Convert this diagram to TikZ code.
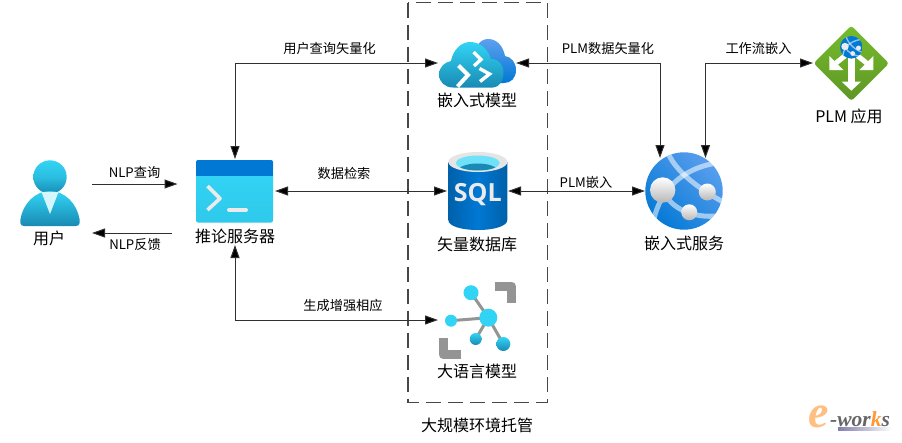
\documentclass[tikz,border=0pt]{standalone}
\usepackage{fontspec}
\setmainfont{Noto Sans CJK SC}
\newfontfamily\sqlfont{Open Sans}
\newfontfamily\ewfont{Liberation Serif}
\usetikzlibrary{arrows.meta}
\definecolor{cyanA}{HTML}{32D4F5}
\definecolor{cyanB}{HTML}{198AB3}
\definecolor{azureA}{HTML}{5EA0EF}
\definecolor{azureB}{HTML}{0078D4}
\definecolor{grayI}{HTML}{949494}
\definecolor{lineC}{HTML}{303030}
\definecolor{leafA}{HTML}{76BC2D}
\definecolor{leafB}{HTML}{5E9624}
\tikzset{
  x=1pt,y=-1pt,
  iconbox/.style={inner sep=0pt,outer sep=0pt,minimum width=#1},
  link/.style={draw=lineC,line width=1pt,{Triangle[length=13pt,width=9pt,fill=black]}-{Triangle[length=13pt,width=9pt,fill=black]}},
  oneway/.style={draw=lineC,line width=1pt,-{Triangle[length=13pt,width=9pt,fill=black]}},
  small/.style={inner sep=0pt,font=\fontsize{13.2}{15}\selectfont,text=black},
  big/.style={inner sep=0pt,font=\fontsize{16}{18}\selectfont,text=black},
  cyandot/.style={fill=cyanA},
  grayline/.style={draw=grayI,line width=3pt},
  corner/.style={draw=grayI,line width=9pt,line join=round,line cap=butt},
  pearl/.style={top color=white,bottom color=black!28},
}
\begin{document}
\begin{tikzpicture}
\useasboundingbox (0,0) rectangle (902,442);
\fill[white] (0,0) rectangle (902,442);

% dashed hosting frame
\draw[draw=black!72,line width=1.1pt,dash pattern=on 15pt off 7pt] (408,2.5) rectangle (547.5,402.5);

% user icon
\shade[top color=cyanA,bottom color=cyanB,middle color=cyanA!70!cyanB] (50,177) circle[radius=16.7];
\shade[top color=cyanA,bottom color=cyanB] (24,226) .. controls (20,226) and (20,222) .. (20.5,219) .. controls (23,204) and (35,191) .. (50,191) .. controls (65,191) and (77,204) .. (79.5,219) .. controls (80,222) and (80,226) .. (76,226) -- cycle;
\fill[white!80!cyanA] (41.5,192) -- (58.5,192) -- (50,214) -- cycle;

% inference server icon
\shade[rounded corners=2pt,top color=cyanA,bottom color=cyanA!85!cyanB] (196,170) rectangle (273,222.5);
\fill[azureB,rounded corners=2pt] (196,160) rectangle (273,172);
\fill[azureB] (196,168) rectangle (273,176);
\draw[white!92!black,line width=3.6pt,line join=round] (207.5,186) -- (220,198.5) -- (207.5,210);
\draw[white!92!black,line width=4pt,line cap=round] (229,210) -- (246,210);

% cloud icon
\shade[top color=azureA,bottom color=azureB] (477,46) .. controls (480,41) and (484,39) .. (488,39) .. controls (497,39) and (503,46) .. (505,56) .. controls (511,57) and (516,62) .. (516,70) .. controls (516,78) and (511,83) .. (504,83) -- (485,83) -- cycle;
\shade[top color=cyanA,middle color=cyanA,bottom color=cyanB] (453,87.5) .. controls (445,87.5) and (439,82) .. (439,74.5) .. controls (439,67) and (445,62) .. (451,61) .. controls (453,50) and (461,42) .. (470,42) .. controls (480,42) and (488,49) .. (491,59) .. controls (499,59) and (503.5,65) .. (503.5,73) .. controls (503.5,81) and (499,87.5) .. (493,87.5) -- cycle;
\draw[white,line width=3.4pt] (473.5,52) -- (481,59.5) -- (474,66);
\draw[white,line width=4pt] (458.5,65.5) -- (468,75) -- (457.5,86.5);
\draw[white,line width=3.4pt] (479.5,68.5) -- (489.5,74) -- (480,81.5);

% database icon
\shade[left color=azureB!80!black,right color=azureB!80!black,middle color=azureB] (448.3,162) -- (448.3,220) .. controls (448.3,226) and (461,230) .. (477.8,230) .. controls (494.5,230) and (507.3,226) .. (507.3,220) -- (507.3,162) -- cycle;
\fill[black!10] (477.8,162) ellipse[x radius=29.5,y radius=10];
\fill[cyanA!70!white] (477.8,163) ellipse[x radius=22,y radius=7.5];
\begin{scope}
\clip (477.8,163) ellipse[x radius=22,y radius=7.5];
\fill[cyanB] (477.8,171) ellipse[x radius=20,y radius=7.5];
\end{scope}
\node[inner sep=0pt,text=white!92!black] (sqltext) at (477.8,195) {\sqlfont\bfseries\fontsize{25}{27}\selectfont SQL};

% language model icon
\draw[corner] (494.5,286) -- (511.5,286) -- (511.5,303);
\draw[corner] (443,337.5) -- (443,354.5) -- (460.5,354.5);
\draw[grayline] (488.3,317.7) -- (471,292.7);
\draw[grayline] (488.3,317.7) -- (451,320.7);
\draw[grayline] (488.3,317.7) -- (475.7,339);
\draw[grayline] (488.3,317.7) -- (503.3,344);
\fill[cyandot] (488.3,317.7) circle[radius=9];
\fill[cyandot] (471,292.7) circle[radius=7.5];
\fill[cyandot] (451,320.7) circle[radius=6];
\shade[top color=cyanA,bottom color=cyanB] (475.7,339) circle[radius=6];
\shade[top color=cyanA,bottom color=cyanB] (503.3,344) circle[radius=7];

% embedding service globe
\begin{scope}
\clip (684,191) circle[radius=38.7];
\shade[left color=azureA,right color=azureB,shading angle=-45] (640,147) rectangle (728,235);
\draw[white,opacity=.55,line width=5pt] (669,155) .. controls (676,170) and (695,187) .. (725,203);
\draw[white,opacity=.55,line width=5pt] (653,225) .. controls (656,200) and (675,166) .. (725,162);
\draw[white,opacity=.55,line width=5pt] (662,190) .. controls (672,210) and (695,220) .. (725,215);
\end{scope}
\shade[pearl] (662.7,190) circle[radius=12.7];
\shade[pearl] (707.3,192) circle[radius=8.5];
\shade[pearl] (689.3,212.3) circle[radius=8];

% PLM application icon
\shade[top color=leafA,bottom color=leafB,rounded corners=3pt] (851.3,25.6) -- (889,63.3) -- (851.3,101) -- (813.6,63.3) -- cycle;
\fill[white] (847.7,56.5) rectangle (855,82);
\fill[white] (841.7,81.7) -- (861,81.7) -- (851.3,90.7) -- cycle;
\fill[white] (829.3,56) -- (829.3,70) -- (843.3,70) -- cycle;
\fill[white] (873.3,56) -- (873.3,70) -- (859.3,70) -- cycle;
\draw[white,line width=5pt] (836,63) -- (846,55);
\draw[white,line width=5pt] (866.6,63) -- (856.6,55);
\begin{scope}
\clip (851.3,47.3) circle[radius=11.3];
\fill[azureB] (840,36) rectangle (863,59);
\draw[white,opacity=.55,line width=1.4pt] (846,36) .. controls (848,44) and (855,50) .. (864,53);
\draw[white,opacity=.55,line width=1.4pt] (843,55) .. controls (844,46) and (852,40) .. (864,39);
\draw[white,opacity=.55,line width=1.4pt] (845,47) .. controls (848,53) and (855,57) .. (864,56);
\end{scope}
\fill[white!92!black] (845,46.5) circle[radius=3.7];
\fill[white!92!black] (858.5,48) circle[radius=2.5];
\fill[white!92!black] (852.7,53.5) circle[radius=2.4];

% invisible anchor nodes of the icons
\node[iconbox=80,minimum height=86] (srv) at (235,202) {};
\node[iconbox=78,minimum height=50] (cloud) at (477,63) {};
\node[iconbox=61,minimum height=78] (sql) at (477.5,191) {};
\node[iconbox=76,minimum height=80] (llm) at (476,320) {};
\node[iconbox=78,minimum height=66] (web) at (684,191) {};
\node[iconbox=76,minimum height=76] (plm) at (851,63) {};
\coordinate (userOut) at (92,184);
\coordinate (srvIn) at (177.5,184);
\coordinate (srvOut) at (172,233);
\coordinate (userIn) at (92,233);
\coordinate (webA) at (660,158);
\coordinate (webB) at (705.5,158);

% connectors
\draw[oneway] (userOut) -- (srvIn);
\draw[oneway] (srvOut) -- (userIn);
\draw[link] (srv.north) |- (cloud.west);
\draw[link] (srv.east |- sql.west) -- (sql.west);
\draw[link] (srv.south) |- (llm.west);
\draw[link] (cloud.east) -| (webA);
\draw[link] (sql.east) -- (web.west);
\draw[link] (webB) |- (plm.west);

% labels
\node[small] (l1) at (329.5,48) {用户查询矢量化};
\node[small] (l2) at (608,48) {PLM数据矢量化};
\node[small] (l3) at (758.5,48) {工作流嵌入};
\node[small] (l4) at (134.5,172) {NLP查询};
\node[small] (l5) at (135,245) {NLP反馈};
\node[small] (l6) at (344,173) {数据检索};
\node[small] (l7) at (586,182) {PLM嵌入};
\node[small] (l8) at (343,305) {生成增强相应};
\node[big] (n1) at (49,238) {用户};
\node[big] (n2) at (235,236) {推论服务器};
\node[big] (n3) at (477,100) {嵌入式模型};
\node[big] (n4) at (477,244) {矢量数据库};
\node[big] (n5) at (684,243) {嵌入式服务};
\node[big] (n6) at (849,116) {PLM 应用};
\node[big] (n7) at (477,371) {大语言模型};
\node[big] (n8) at (477,425) {大规模环境托管};

% watermark
\shade[left color=blue!35!black!50!white,right color=white] (838,427) rectangle (892,430.5);
\node[inner sep=0pt,text=orange!50!white] (ew1) at (819,417) {\ewfont\itshape\bfseries\fontsize{46}{46}\selectfont e};
\node[inner sep=0pt,anchor=west] (ew2) at (830,419.5) {\ewfont\itshape\bfseries\fontsize{21.5}{22}\selectfont\textcolor{black!60}{-wor}\textcolor{orange!80!white}{k}\textcolor{black!60}{s}};
\end{tikzpicture}
\end{document}
